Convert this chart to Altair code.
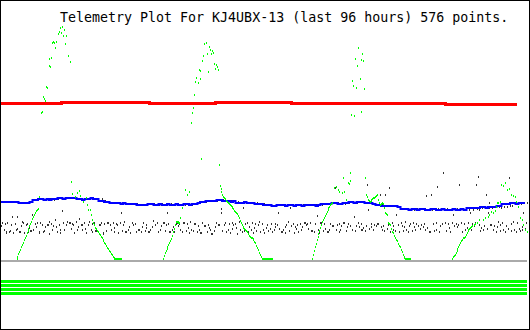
import altair as alt
import pandas as pd

N = 576
title_text = "Telemetry Plot For KJ4UBX-13 (last 96 hours) 576 points."

# dark gray channel, one value per sample (0..575)
black_vals = [
    34, 37, 58, 30, 36, 27, 28, 37, 58, 28, 29, 35, 43, 27, 58, 36, 30, 43, 31, 58, 28, 28, 34, 38,
    37, 27, 57, 35, 36, 28, 57, 32, 29, 29, 45, 30, 60, 36, 33, 37, 61, 27, 28, 37, 61, 35, 28, 29,
    33, 60, 35, 35, 38, 26, 61, 36, 30, 34, 60, 40, 33, 28, 61, 35, 27, 30, 62, 49, 37, 30, 62, 35,
    38, 62, 37, 37, 31, 62, 36, 35, 27, 62, 38, 30, 33, 41, 61, 35, 35, 30, 60, 37, 31, 27, 61, 35,
    38, 61, 30, 28, 36, 62, 37, 29, 29, 61, 28, 35, 35, 37, 61, 26, 27, 36, 59, 29, 37, 37, 58, 35,
    30, 57, 37, 28, 32, 57, 36, 35, 27, 57, 37, 47, 29, 35, 57, 38, 28, 28, 56, 30, 33, 27, 56, 37,
    35, 56, 36, 36, 28, 56, 30, 30, 55, 28, 33, 37, 55, 29, 35, 32, 55, 28, 28, 30, 56, 33, 39, 56,
    35, 55, 37, 37, 28, 55, 30, 34, 56, 37, 37, 29, 35, 47, 55, 36, 28, 28, 56, 30, 33, 28, 55, 36,
    37, 56, 34, 36, 30, 55, 28, 37, 37, 55, 29, 36, 32, 56, 27, 38, 30, 55, 29, 36, 36, 56, 28, 34,
    30, 57, 27, 27, 37, 58, 34, 34, 58, 28, 35, 32, 59, 30, 26, 26, 59, 29, 33, 37, 59, 35, 35, 60,
    47, 51, 29, 60, 35, 37, 28, 59, 30, 36, 27, 59, 37, 31, 35, 59, 36, 32, 26, 58, 38, 30, 57, 28,
    52, 57, 29, 36, 58, 37, 28, 33, 57, 30, 37, 27, 57, 32, 36, 29, 57, 35, 38, 28, 56, 36, 30, 56,
    27, 55, 32, 35, 29, 55, 31, 36, 28, 54, 30, 33, 36, 54, 35, 47, 31, 55, 28, 28, 30, 55, 33, 27,
    35, 54, 38, 29, 52, 34, 55, 36, 27, 33, 54, 31, 35, 28, 55, 36, 30, 33, 55, 37, 37, 35, 55, 36,
    31, 55, 37, 29, 29, 55, 28, 36, 55, 44, 30, 54, 27, 37, 37, 55, 29, 36, 31, 56, 28, 28, 56, 30,
    36, 56, 34, 34, 57, 72, 30, 35, 57, 28, 36, 30, 34, 56, 37, 37, 56, 29, 33, 36, 57, 34, 34, 58,
    30, 58, 43, 29, 34, 57, 37, 33, 58, 36, 30, 30, 32, 58, 29, 34, 75, 50, 31, 57, 36, 33, 57, 30,
    35, 56, 34, 36, 36, 55, 65, 33, 55, 30, 34, 29, 65, 54, 31, 35, 72, 28, 54, 37, 30, 34, 54, 29,
    45, 54, 35, 28, 53, 37, 34, 29, 51, 33, 38, 30, 51, 28, 34, 36, 51, 29, 37, 33, 50, 30, 36, 51,
    34, 50, 31, 35, 51, 33, 36, 30, 51, 64, 32, 50, 28, 28, 65, 50, 36, 29, 51, 37, 30, 73, 51, 28,
    34, 50, 36, 87, 51, 37, 29, 29, 51, 36, 32, 28, 50, 37, 45, 34, 50, 36, 33, 51, 35, 75, 50, 37,
    28, 50, 36, 30, 51, 32, 29, 37, 50, 47, 30, 36, 50, 34, 37, 75, 51, 83, 35, 50, 29, 32, 52, 30,
    34, 52, 65, 31, 47, 57, 52, 35, 35, 52, 30, 34, 53, 28, 33, 38, 53, 35, 29, 52, 37, 30, 53, 28,
    34, 53, 31, 82, 54, 29, 36, 54, 38, 30, 56, 28, 37, 56, 31, 29, 56, 33, 30, 47, 57, 31, 37, 57,
]

# red channel, sampled every 12 samples
red_step = 12
red_vals = [
    156.5, 156.5, 156.5, 156.5, 156.5, 156.5,
    157.5, 157.5, 157.5, 157.5, 157.5, 157.5, 157.5, 157.5,
    156.5, 156.5, 156.5, 156.5, 156.5, 156.5,
    157.5, 157.5, 157.5, 157.5, 157.5, 157.5, 157.5,
    156.5, 156.5, 156.5, 156.5, 156.5, 156.5, 156.5, 156.5, 156.5, 156.5, 156.5, 156.5, 156.5, 156.5,
    155.5, 155.5, 155.5, 155.5, 155.5, 155.5, 155.5,
]

# blue channel, sampled every 3 samples
blue_step = 3
blue_vals = [
    58, 58, 58, 58, 58, 58, 58, 57, 57, 57, 57, 58,
    60, 60, 61, 61, 60, 61, 60, 61, 61, 62, 62, 61,
    62, 62, 62, 62, 61, 61, 60, 61, 61, 62, 61, 61,
    59, 59, 58, 58, 57, 57, 57, 57, 56, 57, 56, 56,
    56, 56, 55, 55, 55, 55, 56, 56, 55, 55, 56, 55,
    55, 56, 55, 55, 56, 55, 55, 56, 56, 55, 56, 56,
    57, 58, 58, 59, 59, 59, 59, 60, 60, 59, 59, 59,
    58, 59, 57, 57, 57, 58, 57, 57, 57, 56, 56, 56,
    55, 55, 55, 54, 54, 55, 55, 55, 54, 55, 55, 54,
    55, 55, 54, 55, 55, 55, 55, 54, 55, 56, 56, 56,
    56, 57, 57, 56, 56, 57, 57, 58, 58, 57, 58, 58,
    58, 57, 57, 57, 56, 55, 55, 54, 54, 54, 54, 54,
    54, 53, 51, 51, 51, 50, 51, 51, 50, 51, 51, 50,
    50, 51, 51, 50, 50, 51, 50, 50, 50, 51, 50, 50,
    51, 50, 52, 52, 52, 52, 52, 53, 53, 52, 53, 53,
    53, 54, 54, 56, 56, 56, 57, 57, 56, 57, 57, 57,
]

# green channel: (first sample, consecutive values); None = nothing drawn
green_segments = [
    (17, [1, 3, 6, 8, 10, 13, 15, 17, 20, 22, 24, 27, 29, 31, 34, 36, 38, 41, 43, 45, 47, 49, 50, 51,
          63, None, None, 147, 148, 163, 161, 159, 173, 172, None, 194, 201, 193, 202, 217, 218, 217,
          212, 218, None, 226, 228, 232, None, 227, 233, 224, 230, 216, 224, None, 204, None, 198,
          78, None, 66, None, None, 63, None, 67, None, 69, 64, None, None, None, 58, None, None,
          62, 55, 50, None, 50, 45, None, 40, 37, 35, 32, 31, 29, 28, 26, 25, 23, 22, 20, 19, 17, 16,
          14, 12, 11, 9, 8, 6, 5, 3, 2, 1, 1, 1, 1, 1, 1, 1, 1]),
    (177, [1, 4, 7, 9, 11, 13, 15, 17, 19, 21, 24, 28, 31, 35, 38, 38, 38, 37, 37, 42, None, 52,
           None, None, 70, None, 65, None, 68, None, None, 137, 147, 152, 165, 178, 182, None, 177,
           190, 181, 189, 101, 199, 204, 216, None, 217, 206, 188, 213, None, 210, 206, 209, 207,
           196, 191, 195, 193, 190, 95, 74, 71, 68, 65, 63, 62, 61, 59, 58, 57, 56, 55, 54, 53, 52,
           51, 49, 48, 47, 46, 44, 42, 39, 37, 35, 33, 32, 31, 30, 29, 28, 26, 24, 23, 22, 22, 21,
           20, 18, 17, 14, 12, 10, 7, 5, 3, 1, 1, 1, 1, 1, 1, 1, 1, 1, 1, 1, 1]),
    (340, [1, 5, 9, 13, 16, 20, 23, 26, 29, 32, 35, 38, 40, 42, 44, 46, 48, 50, 52, 53, 55, 56, 57,
           None, 72, None, 73, None, 70, None, 68, None, None, 67, 82, 68, None, 60, None, 77, 76,
           79, 87, 145, 179, 174, 144, 201, 172, 194, 212, None, 181, 148, 200, 206, 199, 171, 82,
           65, 63, 60, 59, 58, 59, 60, 61, 62, 62, 63, 64, 65, 60, 57, 55, 56, 57, 57, 56, 52, 47,
           46, 45, 37, 36, 35, 31, 28, 27, 27, 24, 22, 20, 19, 16, 14, 13, 10, 8, 5, 3, 2, 1, 1, 1,
           1, 1, 1]),
    (493, [1, 3, 4, 5, 7, 9, 11, 13, 15, 17, 19, 20, 22, 22, 23, 25, 27, 29, 30, 31, 32, 33, 34,
           None, 35, 36, None, 37, None, 40, None, None, None, None, 40, None, 42, None, None, 43,
           None, 45, None, 48, None, 47, None, 49, 53, 57, 57, None, 58, None, 75, None, 74, None,
           77, None, 70, None, 71, None, None, 65, None, 64, None, 63, 58, None, 53, None, 42, None,
           40, None, 35, None, 30, None, 28]),
]

gray_level = -1
bit_levels = [-21.5, -25.5, -29.5, -33.5]

X_DOMAIN = [-1.093, 578.28]
Y_DOMAIN = [-70, 260]

black_df = pd.DataFrame({"i": list(range(N)), "v": black_vals})
red_df = pd.DataFrame({"i": [min(k * red_step, N - 1) for k in range(len(red_vals))], "v": red_vals})
blue_df = pd.DataFrame({"i": [min(k * blue_step, N - 1) for k in range(len(blue_vals))], "v": blue_vals})
g_rows = []
for start, vals in green_segments:
    for j, val in enumerate(vals):
        if val is not None:
            g_rows.append({"i": start + j, "v": val})
green_df = pd.DataFrame(g_rows)
gray_df = pd.DataFrame({"i0": [0], "i1": [N - 1], "lo": [gray_level - 1], "hi": [gray_level + 1]})
bits_df = pd.DataFrame({"i0": [0] * len(bit_levels), "i1": [N - 1] * len(bit_levels),
                        "lo": [b - 1.5 for b in bit_levels], "hi": [b + 1.5 for b in bit_levels]})
title_df = pd.DataFrame({"t": [title_text]})

xs = alt.Scale(domain=X_DOMAIN, nice=False, zero=False, round=True)
ys = alt.Scale(domain=Y_DOMAIN, nice=False, zero=False)
X = alt.X("i:Q", scale=xs, axis=None)
Y = alt.Y("v:Q", scale=ys, axis=None)

DOT = "M0,-1H1V1H0Z"

red = alt.Chart(red_df).mark_line(interpolate="step", color="#ff0000", strokeWidth=3).encode(x=X, y=Y)
blue = alt.Chart(blue_df).mark_line(interpolate="step", color="#0000ff", strokeWidth=2).encode(x=X, y=Y)
black = alt.Chart(black_df).mark_point(shape=DOT, size=4, filled=True, strokeWidth=0, opacity=1,
                                       color="#333333").encode(x=X, y=Y)
green = alt.Chart(green_df).mark_point(shape=DOT, size=4, filled=True, strokeWidth=0, opacity=1,
                                       color="#00ff00").encode(x=X, y=Y)
gray = alt.Chart(gray_df).mark_rect(color="#aaaaaa", strokeWidth=0).encode(
    x=alt.X("i0:Q", scale=xs, axis=None), x2="i1:Q",
    y=alt.Y("lo:Q", scale=ys, axis=None), y2="hi:Q")
bits = alt.Chart(bits_df).mark_rect(color="#00ff00", strokeWidth=0).encode(
    x=alt.X("i0:Q", scale=xs, axis=None), x2="i1:Q",
    y=alt.Y("lo:Q", scale=ys, axis=None), y2="hi:Q")
title = alt.Chart(title_df).mark_text(align="left", baseline="alphabetic", font="DejaVu Sans Mono",
                                      fontSize=13.3, color="#000000").encode(
    text="t:N", x=alt.value(60), y=alt.value(22))

chart = alt.layer(red, black, blue, green, gray, bits, title).properties(
    width=530, height=330, padding=0, autosize="none", background="white"
).configure_view(stroke="black", strokeWidth=2)

chart.save("out.html", embed_options={"renderer": "svg", "actions": False})
